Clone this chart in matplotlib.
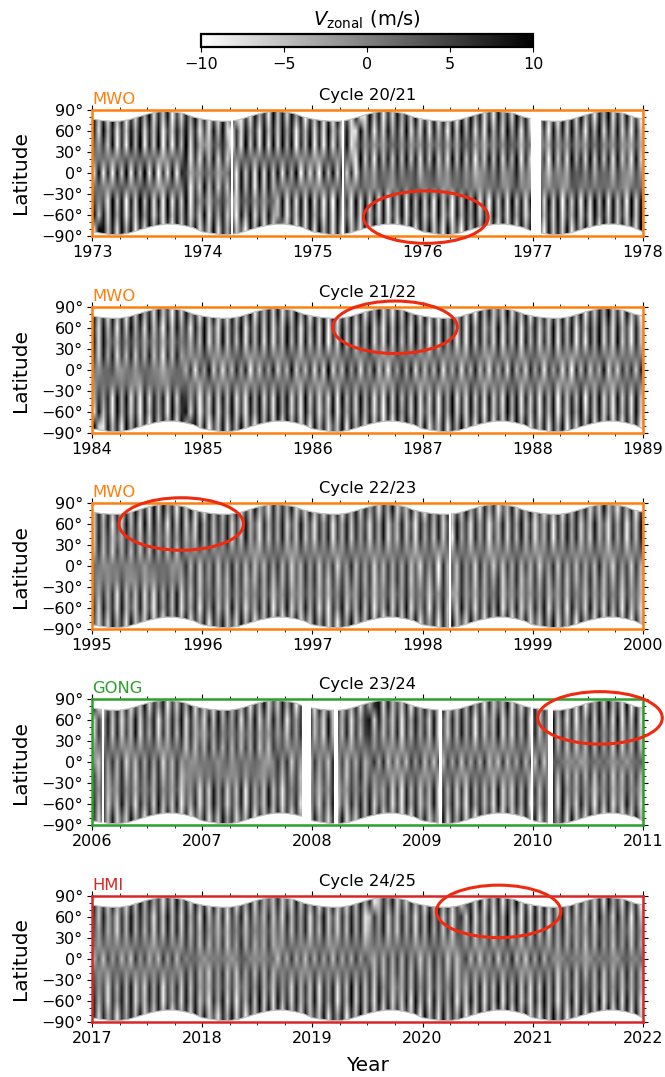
import matplotlib
matplotlib.use('Agg')
import matplotlib.pyplot as plt
import numpy as np
from matplotlib.patches import Ellipse, Polygon
from matplotlib.ticker import MultipleLocator, FuncFormatter

# stripes, m/s, 24 columns per year
# order of rows in each panel: south, equator, north
p1_s = [ 9,-6, 8,-8,10,-4, 9,-9, 7,-7,10,-3, 9,-8, 6,-9,10,-6, 8,-5,
         9,-8, 5,-7,10,-9, 7,-4, 8,-6, 3,-10, 9,-5, 10,-8, 6,-7, 9,-3,
        -4, 8,-9, 6,-7, 9,-8,10,-5, 7,-9, 8,-10, 9,-6, 4,-8, 9,-7, 10,
        -5, 7,-8, 9,-9, 5,-6,10,-8, 8,-4, 9,-7, 6,-9,10,-7, 4,-10, 9,
        -5, 8,-3, 9,-7, 6,-9,10,-6, 7,-8, 9,-4, 8,-8, 5,-10, 9,-6, 8,
        -7,10,-9, 6,-5, 9,-8, 7,-9,10,-4, 8,-7, 9,-6, 5,-8,10,-7, 9]
p1_m = [-5, 7,-6, 4,-8, 6,-3, 9,-7, 5,-4, 8,-6, 7,-9, 3,-5, 8,-7, 4,
         6,-8, 3,-5, 7,-2, 6,-7, 2,-4, 9,-6, 7,-3, 5,-8, 8,-5, 6,-4,
         7,-6, 5,-3, 8,-7, 4,-6, 2,-8, 7,-2, 6,-5, 8,-4, 3,-7, 9,-6,
         4,-7, 8,-2, 5,-6, 7,-4, 6,-3, 8,-7, 5,-2, 9,-6, 3,-5, 8,-4,
         7,-6, 4,-8, 2,-3, 7,-5, 8,-6, 3,-4, 9,-7, 5,-6, 7,-2, 4,-8,
         6,-5, 3,-7, 8,-2, 6,-4, 9,-7, 5,-3, 6,-8, 7,-4, 2,-6, 8,-5]
p1_n = [ 7,-8,10,-5, 8,-9, 6,-7, 9,-4,10,-8, 7,-6, 9,-10, 5,-7, 8,-3,
        10,-6, 7,-9, 4,-8, 9,-5,10,-7,-9, 6,-8, 9,-4, 7,-9,10,-6, 8,
        -7, 9,-3, 8,-10, 6,-5, 9,-8, 7,-9,10,-6, 4,-8, 9,-7,-8,10,-5,
         8,-9, 6,-7, 9,-4, 7,-6,10,-8, 5,-7, 9,-9, 8,-5, 6,-10, 9,-7,
        10,-4, 8,-8, 6,-9, 9,-5, 7,-7,10,-3, 8,-9, 7,-6, 9,-8, 5,-10,
         9,-6, 8,-7,10,-5, 6,-9, 8,-4,10,-8, 7,-6, 9,-7, 5,-9, 8,-6]

p2_s = [-8, 9,-5, 7,-9,10,-4, 8,-7, 6,-10, 9,-6, 8,-3, 7,-9,10,-5, 6,
         9,-7, 8,-10, 4,-6, 9,-8, 7,-5,10,-7, 5,-9, 8,-4, 9,-6, 7,-8,
        10,-3, 8,-7, 6,-9, 9,-5, 7,-8, 4,-6,10,-9, 8,-4, 6,-7, 9,-5,
         7,-8, 5,-10, 8,-6, 9,-3, 7,-7, 9,-8, 4,-6, 8,-9, 7,-4,10,-7,
         6,-8, 9,-5, 7,-9, 8,-6, 5,-7,10,-4, 9,-8, 6,-6, 8,-9, 7,-5,
         9,-10, 6,-7, 8,-4,10,-8, 7,-6, 9,-7, 5,-9, 8,-5, 7,-8,10,-6]
p2_m = [ 3,-4, 5,-2, 6,-5, 2,-3, 4,-6, 3,-1, 5,-4, 2,-6, 4,-3, 5,-2,
        -3, 4,-5, 2,-1, 6,-4, 3,-5, 1,-3, 5,-2, 4,-6, 2,-4, 3,-1, 5,
        -4, 2,-3, 6,-5, 1,-2, 4,-6, 3,-5, 8,-4, 2,-3, 5,-1, 4,-5, 3,
        -2, 5,-4, 3,-6, 2,-1, 4,-3, 6,-5, 2,-4, 3,-2, 5,-6, 1,-3, 4,
        -5, 3,-1, 5,-4, 2,-6, 4,-2, 3,-5, 6,-3, 1,-4, 5,-2, 3,-6, 4,
        -1, 2,-5, 3,-9, 4,-2, 5,-4, 1,-3, 6,-5, 2,-4, 3,-1, 5,-3, 4]
p2_n = [ 6,-8, 9,-5, 7,-9, 8,-6,10,-4, 7,-8, 9,-6, 5,-10, 8,-7, 9,-3,
         6,-9, 8,-5,10,-7, 4,-8, 9,-6, 7,-4,10,-9, 6,-5, 8,-7, 9,-8,
         5,-6,10,-4, 8,-9, 7,-5, 9,-8,10,-10, 6,-7, 9,-5, 8,-8, 6,-4,
        10,-7, 5,-9, 8,-6, 9,-4, 7,-8,10,-5, 6,-9, 8,-7, 9,-3, 6,-8,
         7,-10, 9,-5, 8,-6, 4,-7,10,-8, 6,-5, 9,-9, 7,-4, 8,-7, 5,-6,
        10,-8, 7,-5, 9,-9, 6,-6, 8,-4,10,-7, 6,-8, 9,-5, 4,-9, 8,-6]

p3_s = [ 5,-7, 8,-4, 6,-8, 9,-5, 3,-6, 8,-7, 4,-9, 7,-3, 6,-5, 9,-8,
         5,-4, 7,-9, 6,-3, 8,-6, 4,-7, 9,-5, 6,-8, 3,-4, 7,-6, 8,-9,
         4,-5, 9,-7, 3,-6, 8,-4, 7,-8, 5,-9, 6,-3, 9,-7, 4,-5, 8,-6,
         7,-9, 3,-4, 8,-7, 6,-5, 9,-8, 4,-3, 6,-9, 7,-5, 8,-6, 3,-7,
         9,-4, 5,-8, 6,-6, 7,-3, 9,-9, 4,-5, 8,-7, 3,-6, 7,-4, 9,-8,
         5,-5, 6,-9, 8,-3, 4,-7, 9,-6, 5,-8, 7,-4, 6,-9, 8,-5, 3,-7]
p3_m = [-2, 3,-4, 1,-3, 4,-1, 2,-4, 3,-2, 1,-3, 4,-2, 3,-1, 2,-4, 1,
         3,-2, 4,-3, 1,-1, 3,-4, 2,-2, 4,-1, 3,-3, 1,-4, 2,-2, 3,-1,
         4,-3, 2,-4, 1,-2, 3,-1, 4,-3, 2,-2, 3,-4, 1,-1, 4,-3, 2,-2,
         3,-4, 1,-3, 2,-1, 4,-2, 3,-3, 1,-4, 2,-1, 3,-9, 4,-2, 1,-3,
         3,-1, 2,-4, 4,-2, 1,-3, 3,-4, 2,-1, 4,-3, 1,-2, 3,-4, 2,-1,
         4,-3, 3,-2, 1,-4, 2,-1, 3,-3, 4,-2, 1,-4, 3,-1, 2,-3, 4,-2]
p3_n = [-6, 7,-4, 8,-9, 5,-6, 9,-5, 7,-8, 10,-7, 9,-4, 6,-9, 8,-6, 9,
        -7, 5,-8, 9,-4, 7,-5, 6,-3, 8,-7, 5,-6, 9,-4, 3,-8, 7,-5, 6,
        -4, 8,-7, 3,-6, 9,-5, 4,-8, 6,-3, 7,-9, 5,-4, 8,-6, 7,-3, 5,
        -8, 6,-4, 9,-7, 3,-5, 8,-6, 4,-9, 7,-3, 6,-5, 8,-7, 4,-6, 9,
        -3, 5,-8, 7,-4, 6,-9, 3,-5, 8,-7, 6,-4, 9,-6, 5,-8, 3,-4, 7,
        -9, 6,-5, 8,-3, 7,-7, 4,-6, 9,-5, 3,-8, 6,-4, 7,-9, 5,-6, 8]

p4_s = [ 6,-5, 8,-7, 3,-6, 9,-4, 5,-8, 7,-3, 6,-7, 9,-5, 4,-6, 8,-9,
         3,-4, 7,-8, 5,-6, 9,-3, 6,-7, 4,-5, 8,-9, 7,-4, 3,-6, 9,-5,
         6,-8, 5,-3, 7,-9, 8,-4, 4,-7, 6,-5, 9,-8, 3,-6, 7,-4, 8,-5,
         9,-7, 4,-3, 6,-8, 5,-9, 8,-4, 7,-6, 3,-5, 9,-8, 6,-4, 7,-7,
         5,-9, 8,-3, 6,-5, 4,-8, 9,-7, 3,-6, 7,-4, 8,-9, 5,-5, 6,-3,
         7,-8, 9,-6, 4,-7, 8,-4, 5,-9, 6,-5, 7,-8, 3,-6, 9,-4, 5,-7]
p4_m = [ 2,-3, 4,-1, 3,-2, 4,-4, 1,-3, 2,-1, 4,-2, 3,-4, 1,-2, 3,-1,
        -3, 2,-4, 3,-1, 4,-2, 1,-3, 4,-4, 2,-1, 3,-2, 4,-3, 1,-4, 2,
         3,-1, 4,-3, 2,-2, 1,-4, 3,-1, 2,-3, 4,-2, 3,-4, 1,-1, 4,-3,
        -2, 3,-1, 4,-4, 2,-3, 1,-2, 4,-1, 3,-4, 2,-3, 1,-2, 4,-1, 3,
        -4, 2,-2, 3,-1, 4,-3, 1,-4, 3,-2, 2,-1, 4,-3, 1,-2, 3,-4, 2,
         4,-1, 3,-3, 2,-2, 1,-4, 4,-2, 3,-1, 2,-4, 3,-3, 1,-2, 4,-1]
p4_n = [-7, 5,-4, 8,-6, 7,-8, 4,-5, 9,-7, 6,-3, 8,-9, 5,-6, 7,-4, 9,
        -8, 6,-5, 3,-7, 8,-6, 9,-4, 5,-3, 7,-8, 6,-5, 9,-7, 4,-6, 8,
        -4, 7,-9, 5,-3, 6,-8, 8,-5, 3,-7, 9,-6, 4,-4, 7,-8, 5,-3, 6,
         9,-7, 8,-5, 4,-6, 7,-9, 6,-4, 8,-3, 5,-7, 9,-8, 3,-6, 7,-5,
         8,-4, 6,-9, 7,-6, 3,-5, 9,-8, 5,-7, 6,-4, 8,-9, 7,-5, 4,-3,
         9,-6, 6,-8, 7,-9, 5,-4, 8,-7, 9,-5, 6,-8, 10,-9, 7,-6, 9,-8]

p5_s = [ 7,-4, 5,-8, 6,-3, 8,-5, 9,-7, 4,-6, 7,-4, 8,-9, 5,-3, 6,-7,
         9,-5, 8,-6, 3,-8, 7,-4, 9,-7, 6,-9, 5,-5, 8,-6, 10,-7, 7,-8,
         9,-4, 6,-7, 8,-5, 5,-6, 9,-8, 7,-3, 8,-9, 6,-5, 10,-7, 8,-6,
         6,-8, 9,-5, 7,-7, 4,-6, 8,-9, 10,-5, 7,-8, 9,-6, 6,-4, 8,-9,
         5,-7, 9,-6, 8,-8, 6,-5, 10,-9, 7,-4, 9,-7, 5,-8, 8,-6, 10,-5,
         7,-9, 6,-6, 9,-8, 8,-4, 7,-7, 10,-9, 6,-5, 8,-8, 9,-6, 7,-7]
p5_m = [-2, 1,-3, 2,-1, 3,-2, 1,-4, 3,-1, 2,-3, 1,-2, 4,-1, 2,-3, 1,
         2,-1, 3,-2, 1,-3, 2,-1, 3,-3, 1,-2, 4,-1, 2,-3, 1,-2, 3,-1,
        -3, 2,-1, 3,-2, 1,-4, 2,-1, 3,-2, 1,-3, 4,-1, 2,-2, 3,-1, 1,
         3,-2, 1,-3, 2,-1, 4,-2, 3,-1, 2,-3, 1,-2, 3,-1, 2,-4, 1,-2,
        -1, 3,-2, 1,-3, 2,-1, 3,-3, 2,-1, 4,-2, 1,-3, 2,-1, 3,-2, 1,
         2,-3, 1,-1, 3,-2, 2,-4, 1,-1, 3,-2, 2,-3, 1,-1, 4,-2, 3,-1]
p5_n = [ 5,-6, 8,-4, 3,-7, 6,-5, 9,-4, 7,-3, 5,-8, 6,-6, 9,-5, 7,-7,
         8,-4, 6,-8, 9,-5, 4,-6, 7,-8, 5,-3, 8,-7, 6,-4, 3,-5, 7,-6,
         4,-7, 8,-5, 6,-3, 7,-8, 5,-4, 9,-6, 3,-7, 6,-5, 8,-4, 7,-8,
        -5, 6,-3, 8,-7, 4,-6, 7,-4, 5,-8, 6,-5, 9,-3, 7,-6, 5,-8, 4,
         6,-7, 9,-8, 5,-6, 8,-9, 7,-5, 10,-8, 6,-9, 8,-7, 9,-6, 7,-8,
         5,-4, 8,-7, 6,-5, 4,-6, 7,-8, 9,-3, 5,-7, 8,-4, 6,-9, 7,-5]

# edge of the observed disc over one year, 12 values
north_edge = [77, 75, 74, 74, 76, 80, 84, 87, 88, 87, 85, 80]
south_edge = [-84, -86, -88, -88, -86, -82, -78, -75, -73, -73, -75, -78]

titles = ['Cycle 20/21', 'Cycle 21/22', 'Cycle 22/23', 'Cycle 23/24', 'Cycle 24/25']
start_years = [1973, 1984, 1995, 2006, 2017]
instruments = ['MWO', 'MWO', 'MWO', 'GONG', 'HMI']
inst_colors = ['tab:orange', 'tab:orange', 'tab:orange', 'tab:green', 'tab:red']
fields = [[p1_s, p1_m, p1_n], [p2_s, p2_m, p2_n], [p3_s, p3_m, p3_n],
          [p4_s, p4_m, p4_n], [p5_s, p5_m, p5_n]]
# data gaps, years
gaps = [[(1974.26, 1974.28), (1975.27, 1975.29), (1976.98, 1977.07)],
        [],
        [(1998.24, 1998.26)],
        [(2006.09, 2006.11), (2007.91, 2007.99), (2008.2, 2008.23), (2009.15, 2009.18),
         (2009.98, 2010.0), (2010.14, 2010.18)],
        []]
# ellipse centre year, centre latitude, width in years, height in degrees
ell_x = [1976.03, 1986.75, 1995.81, 2010.61, 2020.69]
ell_y = [-63, 61, 60, 63, 68]
ell_w = 1.13
ell_h = 75

plt.rcParams['font.size'] = 11.5
W, H = 665, 1077
fig = plt.figure(figsize=(W/100, H/100), dpi=100)
tops = [110, 307, 503, 699, 896]
ax_h = 126

for i, t0 in enumerate(start_years):
    ax = fig.add_axes([92/W, 1-(tops[i]+ax_h)/H, 551/W, ax_h/H])
    s, m, n = [np.array(r, dtype=float) for r in fields[i]]
    # blend the three read rows over latitude, outer rows lag so ridges lean poleward
    z = np.array([np.roll(s, 2), s, 0.8*s + 0.5*np.roll(m, 3), 0.5*s + 0.7*m,
                  m + 0.4*np.roll(n, 1), 0.5*n + 0.7*m, 0.8*n + 0.5*np.roll(m, 3), n, np.roll(n, 2)])
    img = ax.imshow(z, cmap='binary', vmin=-10, vmax=10, origin='lower', aspect='auto',
                    extent=[t0, t0+5, -90, 90], interpolation='bilinear')

    # clip to the disc edge
    months = t0 + np.arange(5*12+1)/12
    north = np.array((north_edge*6)[:61])
    south = np.array((south_edge*6)[:61])
    outline = np.vstack([np.c_[months, north], np.c_[months[::-1], south[::-1]]])
    clip = Polygon(outline, closed=True, transform=ax.transData, fc='none', ec='#bbbbbb', lw=0.8, zorder=3)
    ax.add_patch(clip)
    img.set_clip_path(clip)

    for g0, g1 in gaps[i]:
        ax.axvspan(g0, g1, color='white', lw=0, zorder=4)

    ax.add_patch(Ellipse((ell_x[i], ell_y[i]), ell_w, ell_h, fc='none', ec='#ee2a10', lw=2.2,
                         clip_on=False, zorder=6))

    ax.set_xlim(t0, t0+5)
    ax.set_ylim(-90, 90)
    ax.xaxis.set_major_locator(MultipleLocator(1))
    ax.xaxis.set_minor_locator(MultipleLocator(0.25))
    ax.xaxis.set_major_formatter(FuncFormatter(lambda v, p: '%d' % v))
    ax.yaxis.set_major_locator(MultipleLocator(30))
    ax.yaxis.set_minor_locator(MultipleLocator(10))
    ax.yaxis.set_major_formatter(FuncFormatter(lambda v, p: ('%d°' % v).replace('-', '\u2212')))
    ax.tick_params(which='both', top=True, right=True, direction='out', labelsize=11.5)
    ax.tick_params(which='major', length=3.5, width=0.8, pad=3)
    ax.tick_params(which='minor', length=2, width=0.6)
    for sp in ax.spines.values():
        sp.set_color(inst_colors[i])
        sp.set_linewidth(1.8)
        sp.set_zorder(5)
    ax.set_ylabel('Latitude', fontsize=14.5, labelpad=8)
    ax.set_title(titles[i], fontsize=11.8, pad=7)
    ax.text(0, 1.025, instruments[i], transform=ax.transAxes, color=inst_colors[i], fontsize=11.8,
            ha='left', va='bottom')
ax.set_xlabel('Year', fontsize=14.5, labelpad=7)

cax = fig.add_axes([201/W, 1-47/H, 332/W, 13/H])
cb = fig.colorbar(img, cax=cax, orientation='horizontal')
cb.set_ticks([-10, -5, 0, 5, 10])
cb.ax.tick_params(labelsize=11.5, length=3.5, pad=4)
cb.outline.set_linewidth(1.6)
cb.set_label(r'$V_{\mathrm{zonal}}$ (m/s)', fontsize=14, labelpad=6)
cb.ax.xaxis.set_label_position('top')

fig.savefig('out.png', dpi=100)
